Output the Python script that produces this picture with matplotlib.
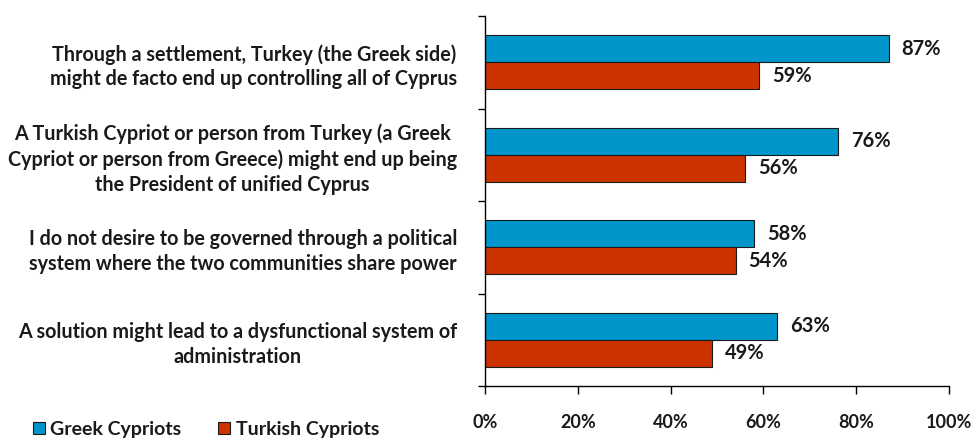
import matplotlib.pyplot as plt
import numpy as np
from matplotlib.patches import Rectangle

categorias = [
    "Through a settlement, Turkey (the Greek side)\nmight de facto end up controlling all of Cyprus",
    "A Turkish Cypriot or person from Turkey (a Greek\nCypriot or person from Greece) might end up being\nthe President of unified Cyprus",
    "I do not desire to be governed through a political\nsystem where the two communities share power",
    "A solution might lead to a dysfunctional system of\nadministration",
]
greek = [87, 76, 58, 63]
turkish = [59, 56, 54, 49]
series = ["Greek Cypriots", "Turkish Cypriots"]
xticks = [0, 20, 40, 60, 80, 100]

azul = "#0095CB"
vermelho = "#CC3300"
fonte = "Lato"
cor_texto = "#1a1a1a"

fig = plt.figure(figsize=(9.78, 4.41), dpi=100)
ax = fig.add_axes([485 / 978, 1 - 386 / 441, 464 / 978, 370 / 441])

y = np.arange(len(categorias))
h = 0.29
ax.barh(y - h / 2, greek, height=h, color=azul, edgecolor=cor_texto, linewidth=0.8)
ax.barh(y + h / 2, turkish, height=h, color=vermelho, edgecolor=cor_texto, linewidth=0.8)

for i in range(len(categorias)):
    ax.text(greek[i] + 2.8, y[i] - h / 2, f"{greek[i]}%", va="center", ha="left",
            fontsize=14.5, fontweight="bold", family=fonte, color=cor_texto)
    ax.text(turkish[i] + 2.8, y[i] + h / 2, f"{turkish[i]}%", va="center", ha="left",
            fontsize=14.5, fontweight="bold", family=fonte, color=cor_texto)

ax.set_xlim(0, 100)
ax.set_ylim(len(categorias) - 0.5, -0.5)
ax.set_xticks(xticks)
ax.set_xticklabels([f"{t}%" for t in xticks], fontsize=13, fontweight="bold", family=fonte,
                   color=cor_texto)
ax.tick_params(axis="x", length=6, direction="out", width=1, pad=14)
ax.set_yticks(y)
ax.set_yticklabels(categorias, fontsize=14.2, fontweight="bold", family=fonte,
                   multialignment="center", linespacing=1.3, color=cor_texto)
ax.tick_params(axis="y", length=0, pad=20)
ax.set_yticks(np.arange(len(categorias) + 1) - 0.5, minor=True)
ax.tick_params(axis="y", which="minor", length=5, direction="out", width=1)

for lado in ["top", "right"]:
    ax.spines[lado].set_visible(False)
ax.spines["left"].set_linewidth(1)
ax.spines["bottom"].set_linewidth(1)

# legenda manual
fig.patches.append(Rectangle((33 / 978, 1 - 434 / 441), 12 / 978, 12 / 441,
                             transform=fig.transFigure, facecolor=azul, edgecolor=cor_texto, lw=0.8))
fig.text(50 / 978, 1 - 435 / 441, series[0], va="baseline", ha="left", fontsize=14,
         fontweight="bold", family=fonte, color=cor_texto)
fig.patches.append(Rectangle((218 / 978, 1 - 434 / 441), 12 / 978, 12 / 441,
                             transform=fig.transFigure, facecolor=vermelho, edgecolor=cor_texto, lw=0.8))
fig.text(236 / 978, 1 - 435 / 441, series[1], va="baseline", ha="left", fontsize=14,
         fontweight="bold", family=fonte, color=cor_texto)

fig.savefig("out.png", dpi=100)
